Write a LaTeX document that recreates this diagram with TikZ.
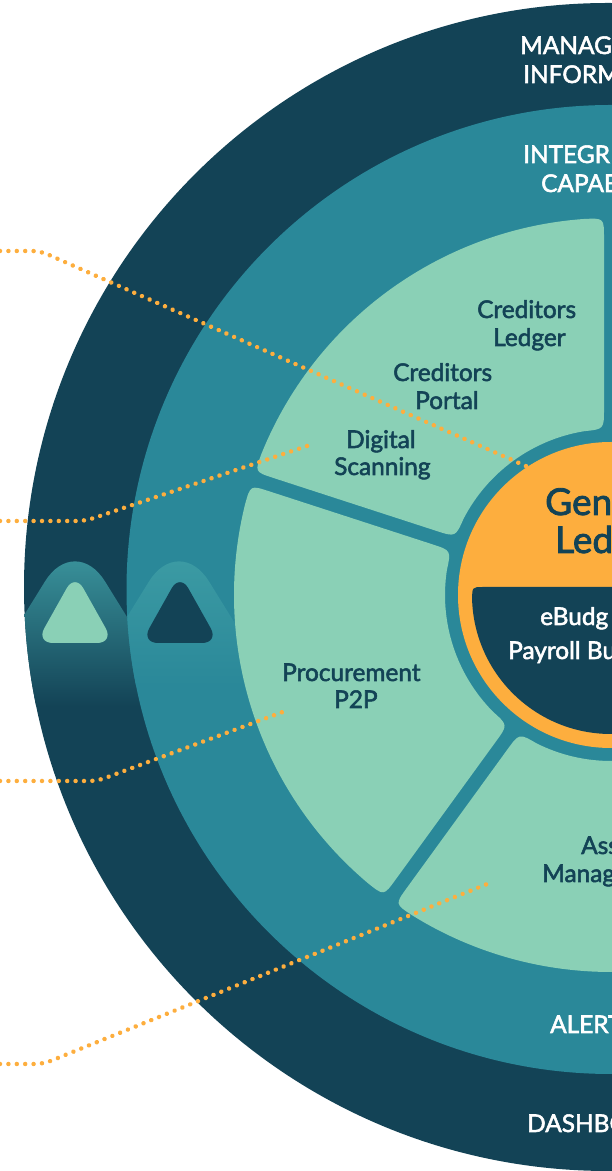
\documentclass[tikz,border=0pt]{standalone}
\usepackage{fontspec}
\setmainfont{Lato}
\newfontfamily\labfont{Lato}[FakeBold=2.2]
\usetikzlibrary{calc,decorations.markings}
\definecolor{navy}{HTML}{134356}
\definecolor{teal2}{HTML}{2A8899}
\definecolor{mint}{HTML}{8AD0B6}
\definecolor{amber}{HTML}{FDAE3E}
\definecolor{hump}{HTML}{3F9EA5}
\tikzset{
  x=1pt,y=1pt,
  seglabel/.style={font=\labfont\fontsize{24.4}{24.4}\selectfont,text=navy,inner sep=0pt,anchor=base west},
  ringlabel/.style={font=\labfont\fontsize{24.4}{24.4}\selectfont,text=white,inner sep=0pt,anchor=base west},
  biglabel/.style={font=\labfont\fontsize{37}{37}\selectfont,text=navy,inner sep=0pt,anchor=base west},
  dots/.style={draw=none,rounded corners=8pt,postaction={decorate,decoration={markings,
     mark=between positions 0 and 1 step 8.4pt with {\fill[amber] (0,0) circle[radius=2.25pt];}}}},
  tri/.style={rounded corners=17pt},
}
% segment of the inner ring between angles #1 < #2
\newcommand{\SegShape}[2]{%
  \pgfmathsetmacro\ra{166}\pgfmathsetmacro\rb{377}\pgfmathsetmacro\gp{7}\pgfmathsetmacro\cc{20}%
  \pgfmathsetmacro\da{asin(\gp/\ra)}\pgfmathsetmacro\db{asin(\gp/\rb)}%
  \pgfmathsetmacro\ca{\cc/\ra*57.2958}\pgfmathsetmacro\cb{\cc/\rb*57.2958}%
  \pgfmathsetmacro\oS{#1+\db+\cb}\pgfmathsetmacro\oE{#2-\db-\cb}%
  \pgfmathsetmacro\iS{#2-\da-\ca}\pgfmathsetmacro\iE{#1+\da+\ca}%
  \pgfmathsetmacro\cA{#2-\db}\pgfmathsetmacro\cB{#2-\da}%
  \pgfmathsetmacro\cC{#1+\da}\pgfmathsetmacro\cD{#1+\db}%
  \pgfmathsetmacro\tb{\rb-\cc}\pgfmathsetmacro\ta{\ra+\cc}%
  \fill[mint] (\oS:\rb pt) arc[start angle=\oS,end angle=\oE,radius=\rb pt]
    .. controls (\cA:\rb pt) .. ($(#2:\tb pt)+(#2-90:\gp pt)$)
    -- ($(#2:\ta pt)+(#2-90:\gp pt)$)
    .. controls (\cB:\ra pt) .. (\iS:\ra pt)
    arc[start angle=\iS,end angle=\iE,radius=\ra pt]
    .. controls (\cC:\ra pt) .. ($(#1:\ta pt)+(#1+90:\gp pt)$)
    -- ($(#1:\tb pt)+(#1+90:\gp pt)$)
    .. controls (\cD:\rb pt) .. cycle;
}
\begin{document}
\begin{tikzpicture}
\useasboundingbox (0,0) rectangle (612,1171);
\clip (0,0) rectangle (612,1171);
% outer ring
\fill[navy] (608,584) circle[radius=584pt];
\begin{scope}
  \clip (608,584) circle[radius=584pt];
  \shade[top color=hump,bottom color=navy]
    (5,525) [rounded corners=57pt] -- (75,638) [sharp corners] -- (145,525) -- (145,465) -- (5,465) -- cycle;
\end{scope}
% middle ring
\fill[teal2] (611,581.5) circle[radius=484.5pt];
\begin{scope}
  \clip (611,581.5) circle[radius=484.5pt];
  \shade[top color=hump,bottom color=teal2]
    (109,525) [rounded corners=57pt] -- (179,638) [sharp corners] -- (249,525) -- (249,485) -- (109,485) -- cycle;
\end{scope}
% triangles
\fill[mint,tri] (75,597.5) -- (114,528) -- (36,528) -- cycle;
\fill[navy,tri] (180,597.5) -- (219,528) -- (141,528) -- cycle;
% inner segments
\begin{scope}[shift={(611,576)}]
  \SegShape{90}{162}
  \SegShape{162}{234}
  \SegShape{234}{306}
  \fill[amber] (0,0) circle[radius=153pt];
  \fill[navy] (60,8) -- (-128,8) .. controls (-138.8,8) .. (182:139pt)
     arc[start angle=182,end angle=360,radius=139pt] -- (139,8) -- cycle;
\end{scope}
% labels
\node[ringlabel] (mgmt)  at (520,1171-54) {MANAG};
\node[ringlabel] (info)  at (523,1171-83) {INFORM};
\node[ringlabel] (integ) at (523,1171-163) {INTEGR};
\node[ringlabel] (capab) at (541,1171-192) {CAPAB};
\node[ringlabel] (alert) at (550,1171-1033) {ALERT};
\node[ringlabel] (dash)  at (527,1171-1132) {DASHBO};
\node[seglabel] (cred1) at (477,1171-318) {Creditors};
\node[seglabel] (ledg)  at (493,1171-346) {Ledger};
\node[seglabel] (cred2) at (393,1171-381) {Creditors};
\node[seglabel] (port)  at (415,1171-409) {Portal};
\node[seglabel] (digi)  at (346,1171-448) {Digital};
\node[seglabel] (scan)  at (334,1171-475) {Scanning};
\node[seglabel] (proc)  at (282,1171-681) {Procurement};
\node[seglabel] (ptwop) at (334,1171-708) {P2P};
\node[seglabel] (asset) at (581,1171-854) {Ass};
\node[seglabel] (manag) at (542,1171-882) {Manag};
\node[biglabel] (gen) at (545,1171-515) {Gen};
\node[biglabel] (led) at (555,1171-553) {Led};
\node[ringlabel] (ebud) at (540,1171-625) {eBudg};
\node[ringlabel] (payr) at (508,1171-659) {Payroll Bu};
% connectors
\coordinate (s1) at (0,1171-251);   \coordinate (e1) at (40,1171-251);  \coordinate (t1) at (528,1171-467);
\coordinate (s2) at (0,1171-521);   \coordinate (e2) at (85,1171-521);  \coordinate (t2) at (310,1171-445);
\coordinate (s3) at (0,1171-781);   \coordinate (e3) at (97,1171-781);  \coordinate (t3) at (288,1171-710);
\coordinate (s4) at (0,1171-1064);  \coordinate (e4) at (43,1171-1064); \coordinate (t4) at (492,1171-882);
\draw[dots] (s1) -- (e1) -- (t1);
\draw[dots] (s2) -- (e2) -- (t2);
\draw[dots] (s3) -- (e3) -- (t3);
\draw[dots] (s4) -- (e4) -- (t4);
\end{tikzpicture}
\end{document}
